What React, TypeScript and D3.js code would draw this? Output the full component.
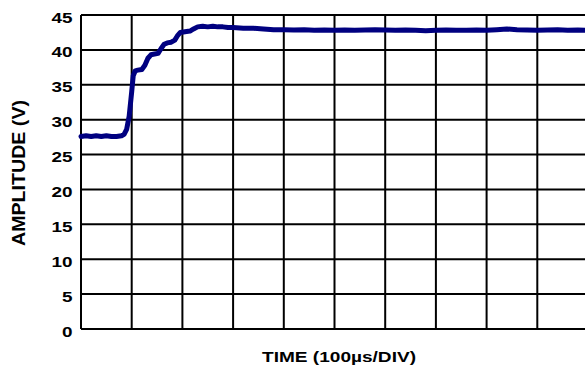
import React from "react";
import * as d3 from "d3";

const timeDiv = [
  0, 0.1, 0.2, 0.3, 0.4, 0.5, 0.6, 0.7, 0.8, 0.85, 0.9, 0.95, 1.0, 1.03, 1.07,
  1.12, 1.2, 1.26, 1.32, 1.38, 1.45, 1.52, 1.58, 1.64, 1.7, 1.78, 1.85, 1.9,
  1.96, 2.05, 2.15, 2.22, 2.3, 2.4, 2.5, 2.6, 2.7, 2.8, 2.9, 3.0, 3.2, 3.4, 3.6,
  3.8, 4.0, 4.2, 4.4, 4.6, 4.8, 5.0, 5.2, 5.4, 5.6, 5.8, 6.0, 6.2, 6.4, 6.6,
  6.8, 7.0, 7.2, 7.4, 7.6, 7.8, 8.0, 8.2, 8.4, 8.6, 8.8, 9.0, 9.2, 9.4, 9.6,
  9.8, 10.0,
];
const amplitudeV = [
  27.6, 27.7, 27.6, 27.7, 27.6, 27.7, 27.6, 27.6, 27.7, 27.9, 28.6, 30.5, 34.0,
  36.3, 37.0, 37.1, 37.2, 37.8, 38.8, 39.3, 39.4, 39.5, 40.2, 40.8, 41.0, 41.1,
  41.4, 42.0, 42.5, 42.6, 42.7, 43.0, 43.3, 43.4, 43.3, 43.4, 43.3, 43.3, 43.2,
  43.2, 43.1, 43.1, 43.0, 42.9, 42.9, 42.85, 42.9, 42.8, 42.85, 42.8, 42.85,
  42.8, 42.85, 42.9, 42.85, 42.8, 42.85, 42.8, 42.75, 42.8, 42.85, 42.8, 42.8,
  42.85, 42.8, 42.9, 43.0, 42.9, 42.85, 42.8, 42.85, 42.9, 42.8, 42.85, 42.8,
];
const yTicks = [0, 5, 10, 15, 20, 25, 30, 35, 40, 45];
const xDivs = [0, 1, 2, 3, 4, 5, 6, 7, 8, 9, 10];
const yLabel = "AMPLITUDE (V)";
const xLabel = "TIME (100µs/DIV)";

const left = 81;
const right = 588;
const top = 15;
const bottom = 329;

export default function App() {
  const x = d3.scaleLinear().domain([0, 10]).range([left, right]);
  const y = d3.scaleLinear().domain([0, 45]).range([bottom, top]);
  const pts = timeDiv.map((t, i) => [t, amplitudeV[i]] as [number, number]);
  const line = d3
    .line<[number, number]>()
    .x((d) => x(d[0]))
    .y((d) => y(d[1]));
  const font = "'Liberation Sans', Arial, sans-serif";
  return (
    <svg
      width={585}
      height={371}
      style={{ position: "absolute", left: 0, top: 0, background: "#fff" }}
    >
      <rect x={0} y={0} width={585} height={371} fill="#fff" />
      {yTicks.map((v) => (
        <line
          key={"h" + v}
          x1={left}
          x2={right}
          y1={y(v)}
          y2={y(v)}
          stroke="#000"
          strokeWidth={2}
        />
      ))}
      {xDivs.map((d) => (
        <line
          key={"v" + d}
          x1={x(d)}
          x2={x(d)}
          y1={top}
          y2={bottom}
          stroke="#000"
          strokeWidth={2}
        />
      ))}
      <path
        d={line(pts) || ""}
        fill="none"
        stroke="#000080"
        strokeWidth={5}
        strokeLinejoin="round"
        strokeLinecap="round"
      />
      {yTicks.map((v) => (
        <text
          key={"t" + v}
          x={72.5}
          y={y(v) + 7.5}
          textAnchor="end"
          fontFamily={font}
          fontWeight="bold"
          fontSize={15}
          textLength={String(v).length * 10.5}
          lengthAdjust="spacingAndGlyphs"
          fill="#000"
        >
          {v}
        </text>
      ))}
      <text
        transform="translate(25,173) rotate(-90)"
        textAnchor="middle"
        fontFamily={font}
        fontWeight="bold"
        fontSize={19}
        textLength={146}
        lengthAdjust="spacingAndGlyphs"
        fill="#000"
      >
        {yLabel}
      </text>
      <text
        x={339}
        y={361.5}
        textAnchor="middle"
        fontFamily={font}
        fontWeight="bold"
        fontSize={15}
        textLength={154}
        lengthAdjust="spacingAndGlyphs"
        fill="#000"
      >
        {xLabel}
      </text>
    </svg>
  );
}
